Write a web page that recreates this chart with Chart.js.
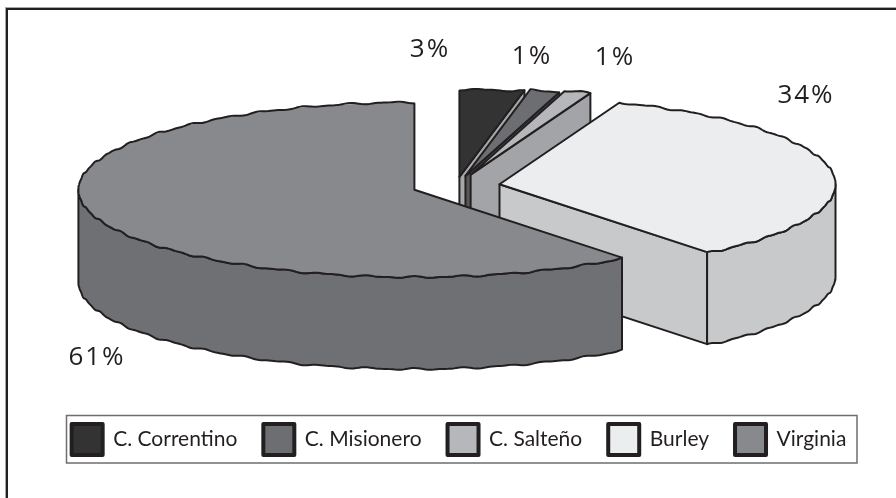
<!DOCTYPE html>
<html>
<head>
<meta charset="utf-8">
<script src="https://cdn.jsdelivr.net/npm/chart.js@4"></script>
<style>
  html, body { margin: 0; padding: 0; background: #fff; overflow: hidden; }
  #wrap { position: relative; width: 896px; height: 498px; overflow: hidden; }
  #frame { position: absolute; left: 6px; top: 8px; right: -9px; bottom: -9px; border: 2px solid #231f20; box-shadow: -1px -1px 0 #a8a8a8; }
</style>
</head>
<body>
<div id="wrap">
  <canvas id="chart" width="896" height="498"></canvas>
  <div id="frame"></div>
</div>
<script>
const categories = ['C. Correntino', 'C. Misionero', 'C. Salteño', 'Burley', 'Virginia'];
const shares = [3.1, 1.4, 1.3, 33.6, 60.6];

// drawing settings
const topColors = ['#333334', '#6d6e71', '#b5b7ba', '#ecedef', '#88898c'];
const wallColors = ['#a6a7a9', '#58595b', '#a3a4a7', '#c8c9cb', '#6f7073'];
const explode = [35, 40, 46, 44, 44];
const labelSpots = [[430, 50], [532, 57], [615, 58], [806, 96], [97, 358]];
const centerX = 456;
const centerY = 186;
const radius = 336;
const squash = 0.26;
const depth = 92;
const inkColor = '#231f20';

function wobble(angle) {
  return 0.7 * Math.sin(angle * 47) + 0.4 * Math.sin(angle * 83);
}

const pie3d = {
  id: 'pie3d',
  beforeDatasetsDraw(chart) {
    const ctx = chart.ctx;
    const arcs = chart.getDatasetMeta(0).data;
    arcs.forEach((arc, i) => {
      const mid = (arc.startAngle + arc.endAngle) / 2;
      const cx = centerX + Math.cos(mid) * explode[i];
      const cy = centerY + Math.sin(mid) * explode[i] * squash;
      const r = arc.outerRadius;
      const rim = (a, drop) => [
        cx + Math.cos(a) * r,
        cy + Math.sin(a) * r * squash + wobble(a) + drop,
      ];
      const shape = (pts, fill) => {
        ctx.beginPath();
        pts.forEach((p, n) => (n ? ctx.lineTo(p[0], p[1]) : ctx.moveTo(p[0], p[1])));
        ctx.closePath();
        if (fill) {
          ctx.fillStyle = fill;
          ctx.fill();
        }
        ctx.stroke();
      };
      const rimPoints = (from, to, drop) => {
        const pts = [];
        const steps = Math.max(2, Math.ceil((to - from) * 120));
        for (let s = 0; s <= steps; s++) pts.push(rim(from + ((to - from) * s) / steps, drop));
        return pts;
      };

      ctx.save();
      ctx.lineWidth = 2;
      ctx.lineJoin = 'round';
      ctx.strokeStyle = inkColor;

      // cut faces, only those turned towards the viewer
      if (Math.cos(arc.startAngle) < -0.001) {
        const p = rim(arc.startAngle, 0);
        shape([[cx, cy], p, [p[0], p[1] + depth], [cx, cy + depth]], wallColors[i]);
      }
      if (Math.cos(arc.endAngle) > 0.001) {
        const p = rim(arc.endAngle, 0);
        shape([[cx, cy], p, [p[0], p[1] + depth], [cx, cy + depth]], wallColors[i]);
      }

      // outer wall, only the part facing the viewer
      const wallFrom = Math.max(arc.startAngle, 0);
      const wallTo = Math.min(arc.endAngle, Math.PI);
      if (wallTo > wallFrom) {
        shape(rimPoints(wallFrom, wallTo, 0).concat(rimPoints(wallFrom, wallTo, depth).reverse()), wallColors[i]);
      }

      // top of the slice: the library's arc, squashed into the ellipse
      ctx.save();
      ctx.translate(cx, cy);
      ctx.scale(1, squash);
      ctx.translate(-arc.x, -arc.y);
      arc.draw(ctx);
      ctx.restore();
      shape([[cx, cy]].concat(rimPoints(arc.startAngle, arc.endAngle, 0)));
      ctx.restore();
    });

    ctx.save();
    ctx.fillStyle = inkColor;
    ctx.font = '26px "Open Sans"';
    ctx.letterSpacing = '2px';
    ctx.textAlign = 'center';
    ctx.textBaseline = 'middle';
    arcs.forEach((arc, i) => {
      ctx.fillText(Math.round(shares[i]) + '%', labelSpots[i][0], labelSpots[i][1]);
    });
    ctx.restore();

    // box round the legend
    ctx.save();
    ctx.strokeStyle = '#6d6e71';
    ctx.lineWidth = 1.5;
    ctx.strokeRect(66.5, 415.5, 790.5, 47.5);
    ctx.restore();
    return false;
  },
};

new Chart(document.getElementById('chart'), {
  type: 'pie',
  data: {
    labels: categories,
    datasets: [{
      data: shares,
      backgroundColor: topColors,
      borderWidth: 0,
      radius: radius,
    }],
  },
  options: {
    responsive: false,
    animation: false,
    layout: { padding: { left: 22, bottom: 33 } },
    plugins: {
      tooltip: { enabled: false },
      legend: {
        position: 'bottom',
        labels: {
          boxWidth: 31,
          boxHeight: 31,
          padding: 26,
          color: inkColor,
          font: { family: 'Lato', size: 21 },
          generateLabels(chart) {
            return Chart.overrides.pie.plugins.legend.labels.generateLabels(chart).map((item) => ({
              ...item,
              strokeStyle: inkColor,
              lineWidth: 4,
              lineJoin: 'round',
            }));
          },
        },
      },
    },
  },
  plugins: [pie3d],
});
</script>
</body>
</html>
